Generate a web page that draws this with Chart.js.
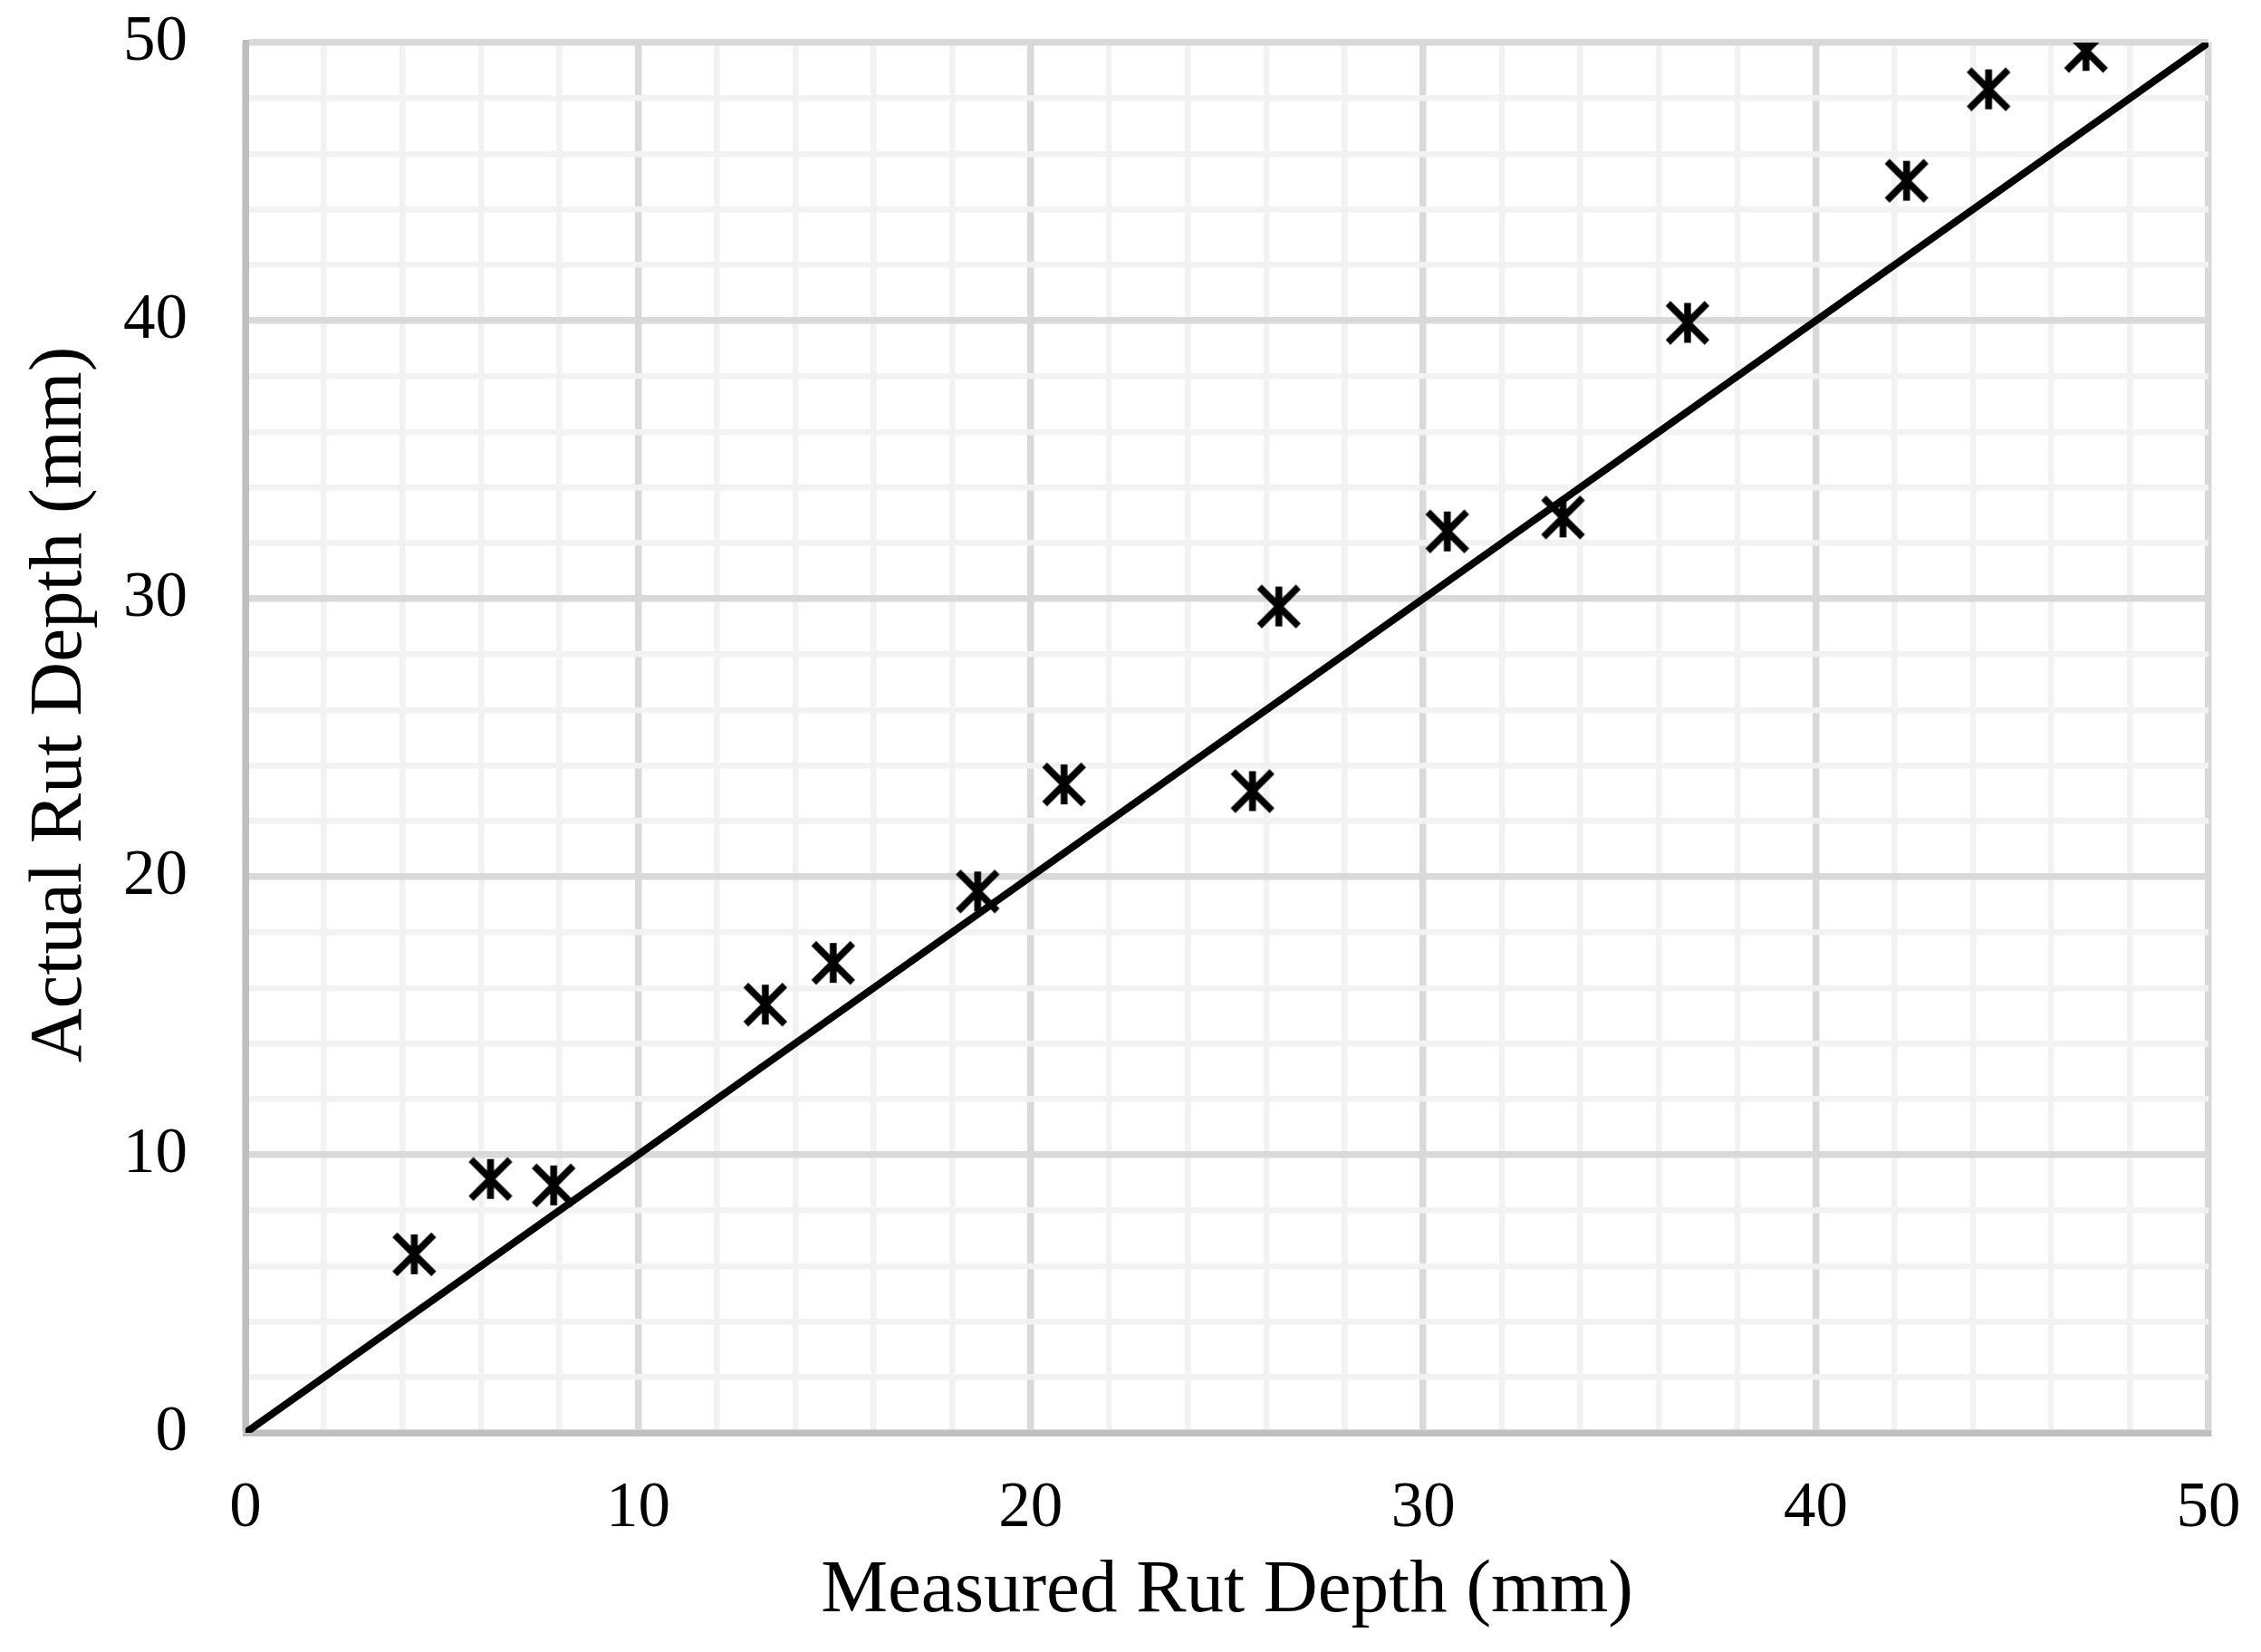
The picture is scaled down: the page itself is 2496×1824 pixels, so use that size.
<!DOCTYPE html>
<html>
<head>
<meta charset="utf-8">
<script src="https://cdn.jsdelivr.net/npm/chart.js@4.4.1/dist/chart.umd.min.js"></script>
<style>
  html, body { margin: 0; padding: 0; background: #ffffff; }
  #wrap { width: 2496px; height: 1824px; }
  canvas { display: block; }
</style>
</head>
<body>
<div id="wrap"><canvas id="c" width="2496" height="1824" style="width:2496px;height:1824px"></canvas></div>
<script>
// ---- data ----
const measured = [4.3, 6.24, 7.85, 13.24, 14.97, 18.65, 20.85, 25.65, 26.32, 30.61, 33.56, 36.73, 42.31, 44.4, 46.88];
const actual   = [6.42, 9.13, 8.9, 15.4, 16.9, 19.47, 23.32, 23.08, 29.72, 32.42, 32.92, 39.92, 45.03, 48.32, 49.7];
const lineX = [0, 50];
const lineY = [0, 50];
const axisMin = 0, axisMax = 50, minorStep = 2, majorStep = 10;
const xTitle = 'Measured Rut Depth (mm)';
const yTitle = 'Actual Rut Depth (mm)';

const FONT = "'Liberation Serif', 'Times New Roman', Times, serif";
const TICK_SIZE = 71;
const TITLE_SIZE = 83;

function makeMarker() {
  const c = document.createElement('canvas');
  c.width = 52; c.height = 52;
  const g = c.getContext('2d');
  g.strokeStyle = '#000000';
  g.lineWidth = 7.5;
  g.lineCap = 'butt';
  g.beginPath();
  g.moveTo(26, 4); g.lineTo(26, 48);
  g.moveTo(4.5, 4.5); g.lineTo(47.5, 47.5);
  g.moveTo(47.5, 4.5); g.lineTo(4.5, 47.5);
  g.stroke();
  return c;
}
const marker = makeMarker();

const isMajor = v => Math.abs(v % majorStep) < 1e-9;

const gridOpts = {
  color: ctx => (ctx.tick && isMajor(ctx.tick.value)) ? '#d9d9d9' : '#f2f2f2',
  lineWidth: ctx => (ctx.tick && isMajor(ctx.tick.value)) ? 7.5 : 6.5,
  drawTicks: false
};

const yTitlePlugin = {
  id: 'yTitle',
  afterDraw(chart) {
    const ctx = chart.ctx;
    ctx.save();
    ctx.translate(89, 778);
    ctx.rotate(-Math.PI / 2);
    ctx.font = TITLE_SIZE + "px " + FONT;
    ctx.fillStyle = '#000000';
    ctx.textAlign = 'center';
    ctx.textBaseline = 'alphabetic';
    ctx.fillText(yTitle, 0, 0);
    ctx.restore();
  }
};

new Chart(document.getElementById('c'), {
  data: {
    datasets: [
      {
        type: 'scatter',
        label: 'Rut depth',
        data: measured.map((x, i) => ({ x: x, y: actual[i] })),
        pointStyle: marker,
        pointRadius: 26,
        pointHoverRadius: 26,
        order: 0
      },
      {
        type: 'line',
        label: 'Line of equality',
        data: lineX.map((x, i) => ({ x: x, y: lineY[i] })),
        borderColor: '#000000',
        borderWidth: 8,
        pointRadius: 0,
        fill: false,
        order: 1
      }
    ]
  },
  options: {
    responsive: false,
    animation: false,
    devicePixelRatio: 1,
    layout: { padding: { left: 0, top: 47, right: 58, bottom: 0 } },
    plugins: { legend: { display: false }, tooltip: { enabled: false } },
    scales: {
      x: {
        type: 'linear',
        min: axisMin, max: axisMax,
        grid: gridOpts,
        border: { color: '#bfbfbf', width: 7 },
        ticks: {
          stepSize: minorStep,
          autoSkip: false,
          maxRotation: 0,
          padding: 42,
          color: '#000000',
          font: { family: FONT, size: TICK_SIZE },
          callback: v => isMajor(v) ? String(v) : ''
        },
        title: {
          display: true,
          text: xTitle,
          color: '#000000',
          font: { family: FONT, size: TITLE_SIZE },
          padding: { top: 0, bottom: 17 }
        },
        afterFit: s => { s.height = 242; s.paddingLeft = 0; s.paddingRight = 0; }
      },
      y: {
        type: 'linear',
        min: axisMin, max: axisMax,
        grid: gridOpts,
        border: { color: '#bfbfbf', width: 7 },
        ticks: {
          stepSize: minorStep,
          autoSkip: false,
          padding: 64,
          color: '#000000',
          font: { family: FONT, size: TICK_SIZE },
          callback: v => isMajor(v) ? String(v) : ''
        },
        afterFit: s => { s.width = 271; s.paddingTop = 0; s.paddingBottom = 0; }
      }
    }
  },
  plugins: [yTitlePlugin]
});
</script>
</body>
</html>
